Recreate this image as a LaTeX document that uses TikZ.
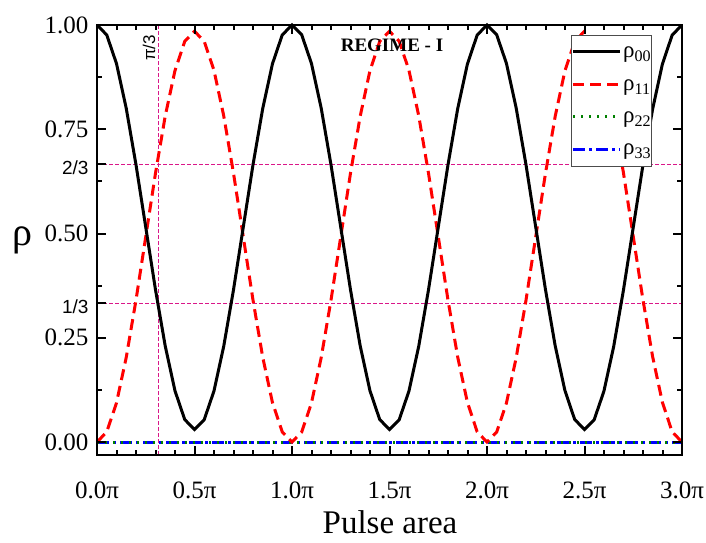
\documentclass[tikz,border=0pt]{standalone}
\usepackage{fontspec}
\setmainfont{Liberation Serif}
\newfontfamily\lsans{Liberation Sans}
\begin{document}
\begin{tikzpicture}[x=1pt,y=1pt,
  mag/.style={draw=magenta!80!violet,line width=0.8pt,dash pattern=on 4pt off 2pt},
  c0/.style={black,line width=3pt},
  c1/.style={red,line width=3pt,dash pattern=on 11pt off 6pt},
  c2/.style={green!50!black,line width=3pt,dash pattern=on 2pt off 6pt},
  c3/.style={blue,line width=3pt,dash pattern=on 12pt off 4pt on 3pt off 4pt},
  tl/.style={font=\fontsize{25}{25}\selectfont}]
\useasboundingbox (0,0) rectangle (706,542);
% dashed guides
\draw[mag] (97,{100+417/3}) -- (682,{100+417/3});
\draw[mag] (97,{100+834/3}) -- (682,{100+834/3});
\draw[mag] (158,87) -- (158,517);
\node[rotate=90,font=\lsans\fontsize{17}{17}\selectfont] (pl) at (149,494) {π/3};
% curves
\draw[c3] (97,100) -- (682,100);
\draw[c2] (97,100) -- (682,100);
\draw[c1] plot[domain=0:3,samples=61] ({97+195*\x},{100+417*0.985*sin(180*\x)^2});
\draw[c0] plot[domain=0:3,samples=61] ({97+195*\x},{100+417*(0.03+0.97*cos(180*\x)^2)});
% frame
\draw[line width=2.8pt] (97,87) rectangle (682,517);
% ticks
\foreach \i in {0,...,30}{
  \pgfmathsetmacro\xx{97+19.5*\i}
  \pgfmathsetmacro\len{ifthenelse(mod(\i,5)==0,9,5)}
  \draw[line width=2pt] (\xx,87) -- ++(0,\len);
  \draw[line width=2pt] (\xx,517) -- ++(0,-\len);}
\foreach \i in {0,...,8}{
  \pgfmathsetmacro\yy{100+52.125*\i}
  \pgfmathsetmacro\len{ifthenelse(mod(\i,2)==0,9,5)}
  \draw[line width=2pt] (97,\yy) -- ++(\len,0);
  \draw[line width=2pt] (682,\yy) -- ++(-\len,0);}
\foreach \f in {1,2}{
  \draw[line width=2pt] (97,{100+417*\f/3}) -- ++(9,0);}
% tick labels
\foreach \v/\t in {0/0.0,1/0.5,2/1.0,3/1.5,4/2.0,5/2.5,6/3.0}
  \node[tl] (xl\v) at ({97+97.5*\v},52) {\t{}π};
\foreach \v/\t in {0/0.00,1/0.25,2/0.50,3/0.75,4/1.00}
  \node[tl,anchor=east] (yl\v) at (92,{100+104.25*\v}) {\t};
\node[anchor=east,font=\lsans\fontsize{19}{19}\selectfont] (t1) at (92,{100+417/3-4}) {1/3};
\node[anchor=east,font=\lsans\fontsize{19}{19}\selectfont] (t2) at (92,{100+834/3-4}) {2/3};
\node[font=\fontsize{33}{33}\selectfont] (xt) at (390,20) {Pulse area};
\node[font=\fontsize{40}{40}\selectfont] (yt) at (22,302) {ρ};
\node[font=\bfseries\fontsize{19}{19}\selectfont] (reg) at (392,497) {REGIME - I};
% legend
\draw[fill=white,draw=black!70,line width=0.8pt] (571,376) rectangle (651,507);
\foreach \k/\s/\yy in {00/c0/490,11/c1/457,22/c2/425,33/c3/393}{
  \draw[\s] (573,\yy) -- (620,\yy);
  \node[anchor=west,inner sep=0pt,font=\fontsize{23}{23}\selectfont] (lg\k) at (623,\yy-3) {ρ\textsubscript{\k}};}
\end{tikzpicture}
\end{document}
